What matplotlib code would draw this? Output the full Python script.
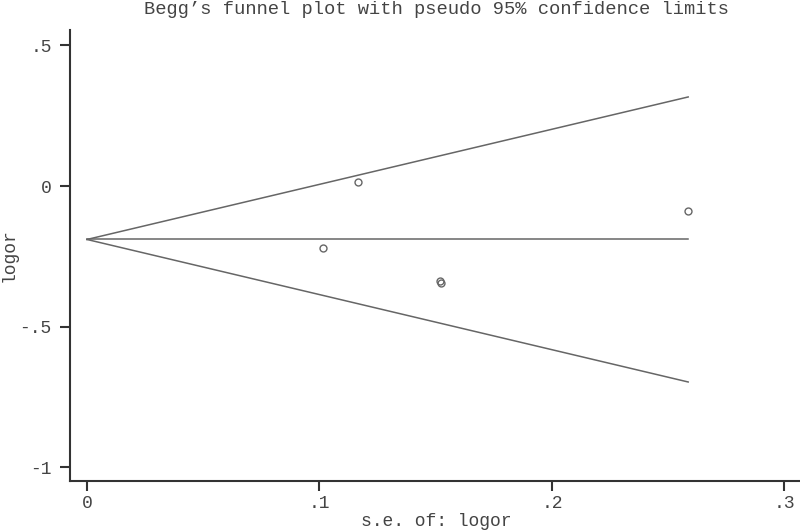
import matplotlib

matplotlib.use("Agg")
import matplotlib.pyplot as plt
import numpy as np

# study-level estimates
se = [0.1017, 0.1166, 0.1520, 0.1522, 0.2586]
logor = [-0.221, 0.015, -0.339, -0.346, -0.088]

# pooled estimate and funnel extent
pooled = -0.19
se_max = 0.2586

xticks = [0, 0.1, 0.2, 0.3]
xtick_labels = ["0", ".1", ".2", ".3"]
yticks = [-1, -0.5, 0, 0.5]
ytick_labels = ["-1", "-.5", "0", ".5"]

plt.rcParams["font.family"] = ["Liberation Mono", "DejaVu Sans Mono"]
plt.rcParams["axes.unicode_minus"] = False

fig = plt.figure(figsize=(8, 5.31), dpi=100)
ax = fig.add_axes([70 / 800, 50 / 531, 730 / 800, 451 / 531])

line_col = "#666666"
text_col = "#444444"
s = np.array([0.0, se_max])
ax.plot(s, pooled + 1.96 * s, color=line_col, lw=1.1)
ax.plot(s, pooled - 1.96 * s, color=line_col, lw=1.1)
ax.plot(s, [pooled, pooled], color=line_col, lw=1.1)
ax.plot(se, logor, ls="none", marker="o", ms=5, mfc="none", mec=line_col, mew=1.0)

ax.set_xlim(-0.0073, 0.3067)
ax.set_ylim(-1.049, 0.555)

ax.set_xticks(xticks)
ax.set_xticklabels(xtick_labels)
ax.set_yticks(yticks)
ax.set_yticklabels(ytick_labels)

for side in ("top", "right"):
    ax.spines[side].set_visible(False)
for side in ("left", "bottom"):
    ax.spines[side].set_color("#333333")
    ax.spines[side].set_linewidth(1.5)

ax.tick_params(axis="both", direction="out", length=7.2, width=1.5,
               color="#333333", labelsize=13, labelcolor=text_col)
ax.tick_params(axis="y", pad=6)
ax.tick_params(axis="x", pad=3)

ax.set_xlabel("s.e. of: logor", fontsize=13, color=text_col, va="center")
ax.xaxis.set_label_coords((436 - 70) / 730, -41 / 451)
ax.set_ylabel("logor", fontsize=13, color=text_col, va="center")
ax.yaxis.set_label_coords(-61 / 730, 0.5)

fig.text(436 / 800, 1 - 9 / 531,
         "Begg\u2019s funnel plot with pseudo 95% confidence limits",
         fontsize=13.5, color=text_col, ha="center", va="center")

fig.savefig("out.png", dpi=100)
